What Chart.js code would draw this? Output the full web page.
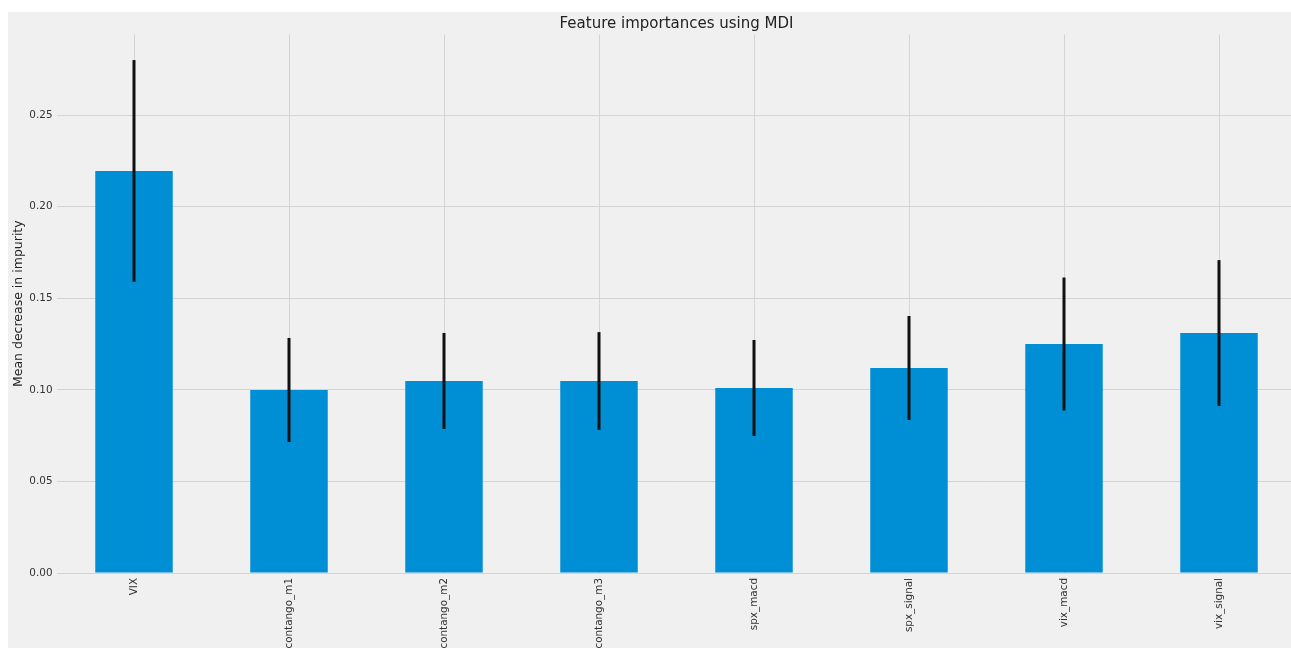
<!DOCTYPE html>
<html>
<head>
<meta charset="utf-8">
<title>Feature importances using MDI</title>
<script src="https://cdn.jsdelivr.net/npm/chart.js@4.4.1/dist/chart.umd.min.js"></script>
<style>
  html, body { margin: 0; padding: 0; background: #ffffff; overflow: hidden; width: 1291px; height: 648px; }
  #frame { position: absolute; left: 8px; top: 12px; width: 1300px; height: 636px; background: #f0f0f0; }
  canvas { display: block; }
</style>
</head>
<body>
<div id="frame"><canvas id="chart" width="1300" height="636"></canvas></div>
<script>
// Feature names, mean decrease in impurity and its spread across trees
const features = ['VIX', 'contango_m1', 'contango_m2', 'contango_m3', 'spx_macd', 'spx_signal', 'vix_macd', 'vix_signal'];
const importances = [0.2195, 0.0999, 0.1048, 0.1048, 0.1010, 0.1119, 0.1250, 0.1310];
const stdErrors = [0.0605, 0.0284, 0.0262, 0.0267, 0.0262, 0.0284, 0.0363, 0.0398];
const yTicks = [0.00, 0.05, 0.10, 0.15, 0.20, 0.25];
const yMax = 0.294;

const FONT = 'DejaVu Sans';

// Vertical error bars: mean ± std for every feature, drawn through the scales
const errorBars = {
  id: 'errorBars',
  afterDatasetsDraw(chart) {
    const { ctx, scales: { x, y } } = chart;
    ctx.save();
    ctx.strokeStyle = '#111111';
    ctx.lineWidth = 3;
    ctx.lineCap = 'butt';
    importances.forEach((v, i) => {
      const px = x.getPixelForValue(i);
      ctx.beginPath();
      ctx.moveTo(px, y.getPixelForValue(v + stdErrors[i]));
      ctx.lineTo(px, y.getPixelForValue(v - stdErrors[i]));
      ctx.stroke();
    });
    ctx.restore();
  }
};

new Chart(document.getElementById('chart'), {
  type: 'bar',
  data: {
    labels: features,
    datasets: [{
      data: importances,
      backgroundColor: '#008fd5',
      borderWidth: 0,
      barPercentage: 0.5,
      categoryPercentage: 1.0
    }]
  },
  options: {
    responsive: false,
    animation: false,
    layout: { padding: { left: 0, right: 11.5, top: 0, bottom: 0 } },
    plugins: {
      legend: { display: false },
      tooltip: { enabled: false },
      title: {
        display: true,
        text: 'Feature importances using MDI',
        fullSize: false,
        color: '#222222',
        font: { family: FONT, size: 15, weight: 'normal' },
        padding: { top: 3, bottom: 1.4 }
      }
    },
    scales: {
      x: {
        offset: true,
        grid: { color: '#d4d4d4', lineWidth: 1, offset: false, drawTicks: false },
        border: { display: false },
        ticks: {
          autoSkip: false,
          minRotation: 90,
          maxRotation: 90,
          padding: 5,
          color: '#333333',
          font: { family: FONT, size: 10.4 }
        },
        afterFit(scale) { scale.height = 75; }
      },
      y: {
        min: 0,
        max: yMax,
        grid: { color: '#d4d4d4', lineWidth: 1, drawTicks: false },
        border: { display: false },
        title: {
          display: true,
          text: 'Mean decrease in impurity',
          color: '#222222',
          font: { family: FONT, size: 12.5 },
          padding: { top: 3, bottom: 0 }
        },
        ticks: {
          includeBounds: false,
          padding: 4,
          color: '#333333',
          font: { family: FONT, size: 10.4 },
          callback: (v) => Number(v).toFixed(2)
        },
        afterBuildTicks(scale) { scale.ticks = yTicks.map(v => ({ value: v })); },
        afterFit(scale) { scale.width = 48.5; }
      }
    }
  },
  plugins: [errorBars]
});
</script>
</body>
</html>
